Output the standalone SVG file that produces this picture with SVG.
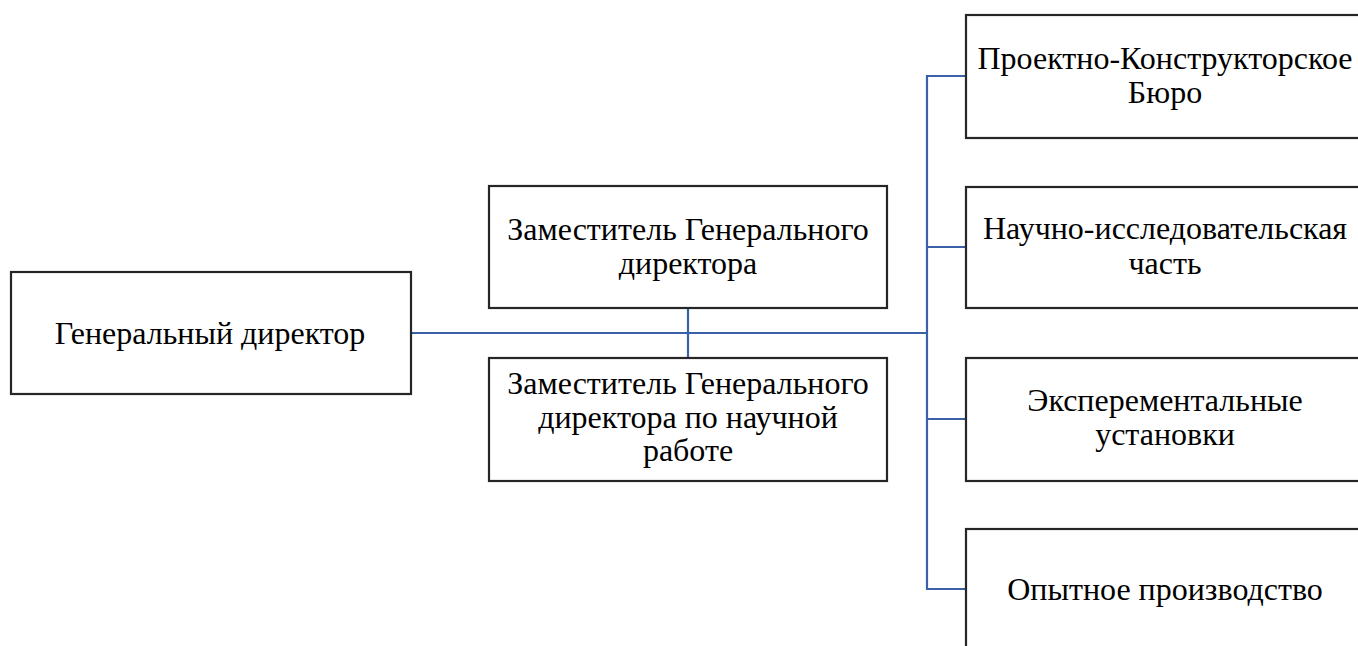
<svg xmlns="http://www.w3.org/2000/svg" width="1358" height="646" viewBox="0 0 1358 646">
<style>
.box{fill:#fff;stroke:#262626;stroke-width:2.2}
.t{font-family:'Liberation Serif','Times New Roman','DejaVu Serif',serif;font-size:32px;fill:#000;text-anchor:middle}
.c{fill:none;stroke:#3a60a8;stroke-width:2.2}
</style>
<rect width="1358" height="646" fill="#fff"/>
<g id="connectors">
<path class="c" d="M411 333H927"/>
<path class="c" d="M688 308V358"/>
<path class="c" d="M966 76H927V589H966"/>
<path class="c" d="M927 247H966"/>
<path class="c" d="M927 419H966"/>
</g>
<g id="gen">
<rect class="box" x="11" y="272" width="400" height="122"/>
<text class="t" x="210" y="344">Генеральный  директор</text>
</g>
<g id="dep1">
<rect class="box" x="489" y="186" width="398" height="122"/>
<text class="t" x="688" y="240">Заместитель Генерального</text>
<text class="t" x="688" y="274">директора</text>
</g>
<g id="dep2">
<rect class="box" x="489" y="358" width="398" height="123"/>
<text class="t" x="688" y="394">Заместитель Генерального</text>
<text class="t" x="688" y="428">директора по научной</text>
<text class="t" x="688" y="461">работе</text>
</g>
<g id="pkb">
<rect class="box" x="966" y="15" width="404" height="123"/>
<text class="t" x="1165" y="69">Проектно-Конструкторское</text>
<text class="t" x="1165" y="103">Бюро</text>
</g>
<g id="nic">
<rect class="box" x="966" y="187" width="404" height="121"/>
<text class="t" x="1165" y="239">Научно-исследовательская</text>
<text class="t" x="1165" y="274">часть</text>
</g>
<g id="exp">
<rect class="box" x="966" y="358" width="404" height="123"/>
<text class="t" x="1165" y="411">Эксперементальные</text>
<text class="t" x="1165" y="445">установки</text>
</g>
<g id="opyt">
<rect class="box" x="966" y="529" width="404" height="130"/>
<text class="t" x="1165" y="600">Опытное производство</text>
</g>
</svg>
